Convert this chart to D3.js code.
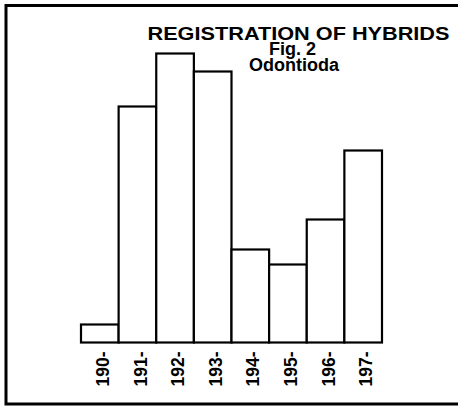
<!DOCTYPE html>
<html>
<head>
<meta charset="utf-8">
<script src="https://cdn.jsdelivr.net/npm/d3@7"></script>
<style>
  body { margin: 0; background: #fff; }
  svg { display: block; font-family: "Liberation Sans", Arial, sans-serif; font-weight: bold; }
</style>
</head>
<body>
<svg id="chart" width="458" height="406"></svg>
<script>
// decades (tick labels) and number of registered hybrids
var decades = ["190-", "191-", "192-", "193-", "194-", "195-", "196-", "197-"];
var counts = [18, 236, 289, 271, 93, 78, 123, 192];
var titleLines = ["REGISTRATION OF HYBRIDS", "Fig. 2", "Odontioda"];

var data = decades.map(function(d, i) { return {decade: d, n: counts[i]}; });

var svg = d3.select("#chart"),
    width = +svg.attr("width"),
    height = +svg.attr("height");

var x = d3.scaleBand()
    .domain(decades)
    .range([81, 382])
    .padding(0);

var y = d3.scaleLinear()
    .domain([0, 300])
    .range([342.5, 42.5]);

// frame: left, top and bottom edges only
svg.append("path")
    .attr("d", "M458,5.5 H6 V404 H458")
    .attr("fill", "none")
    .attr("stroke", "#000")
    .attr("stroke-width", 3);

svg.append("g")
  .selectAll("rect")
  .data(data)
  .enter().append("rect")
    .attr("x", function(d) { return x(d.decade); })
    .attr("y", function(d) { return y(d.n); })
    .attr("width", x.bandwidth())
    .attr("height", function(d) { return y(0) - y(d.n); })
    .attr("fill", "#fff")
    .attr("stroke", "#000")
    .attr("stroke-width", 2.2);

var axis = svg.append("g")
    .attr("transform", "translate(0," + y(0) + ")")
    .call(d3.axisBottom(x).tickSize(0));

axis.select(".domain").remove();
axis.selectAll("text")
    .attr("x", -9)
    .attr("y", 3)
    .attr("dy", "0.35em")
    .attr("transform", "rotate(-90)")
    .style("text-anchor", "end")
    .style("font-family", "inherit")
    .style("font-size", "17.5px")
    .attr("fill", "#000");

// title block
var tx = [298.5, 292.5, 294];
var ty = [39.5, 54.5, 71];
var title = svg.append("g")
  .selectAll("text")
  .data(titleLines)
  .enter().append("text")
    .attr("x", function(d, i) { return tx[i]; })
    .attr("y", function(d, i) { return ty[i]; })
    .attr("text-anchor", "middle")
    .style("font-size", function(d, i) { return i == 0 ? "18.5px" : "18px"; })
    .text(function(d) { return d; });

// the printed title face is wider than Liberation Sans
title.filter(function(d, i) { return i == 0; })
    .attr("textLength", 302)
    .attr("lengthAdjust", "spacingAndGlyphs");
</script>
</body>
</html>
